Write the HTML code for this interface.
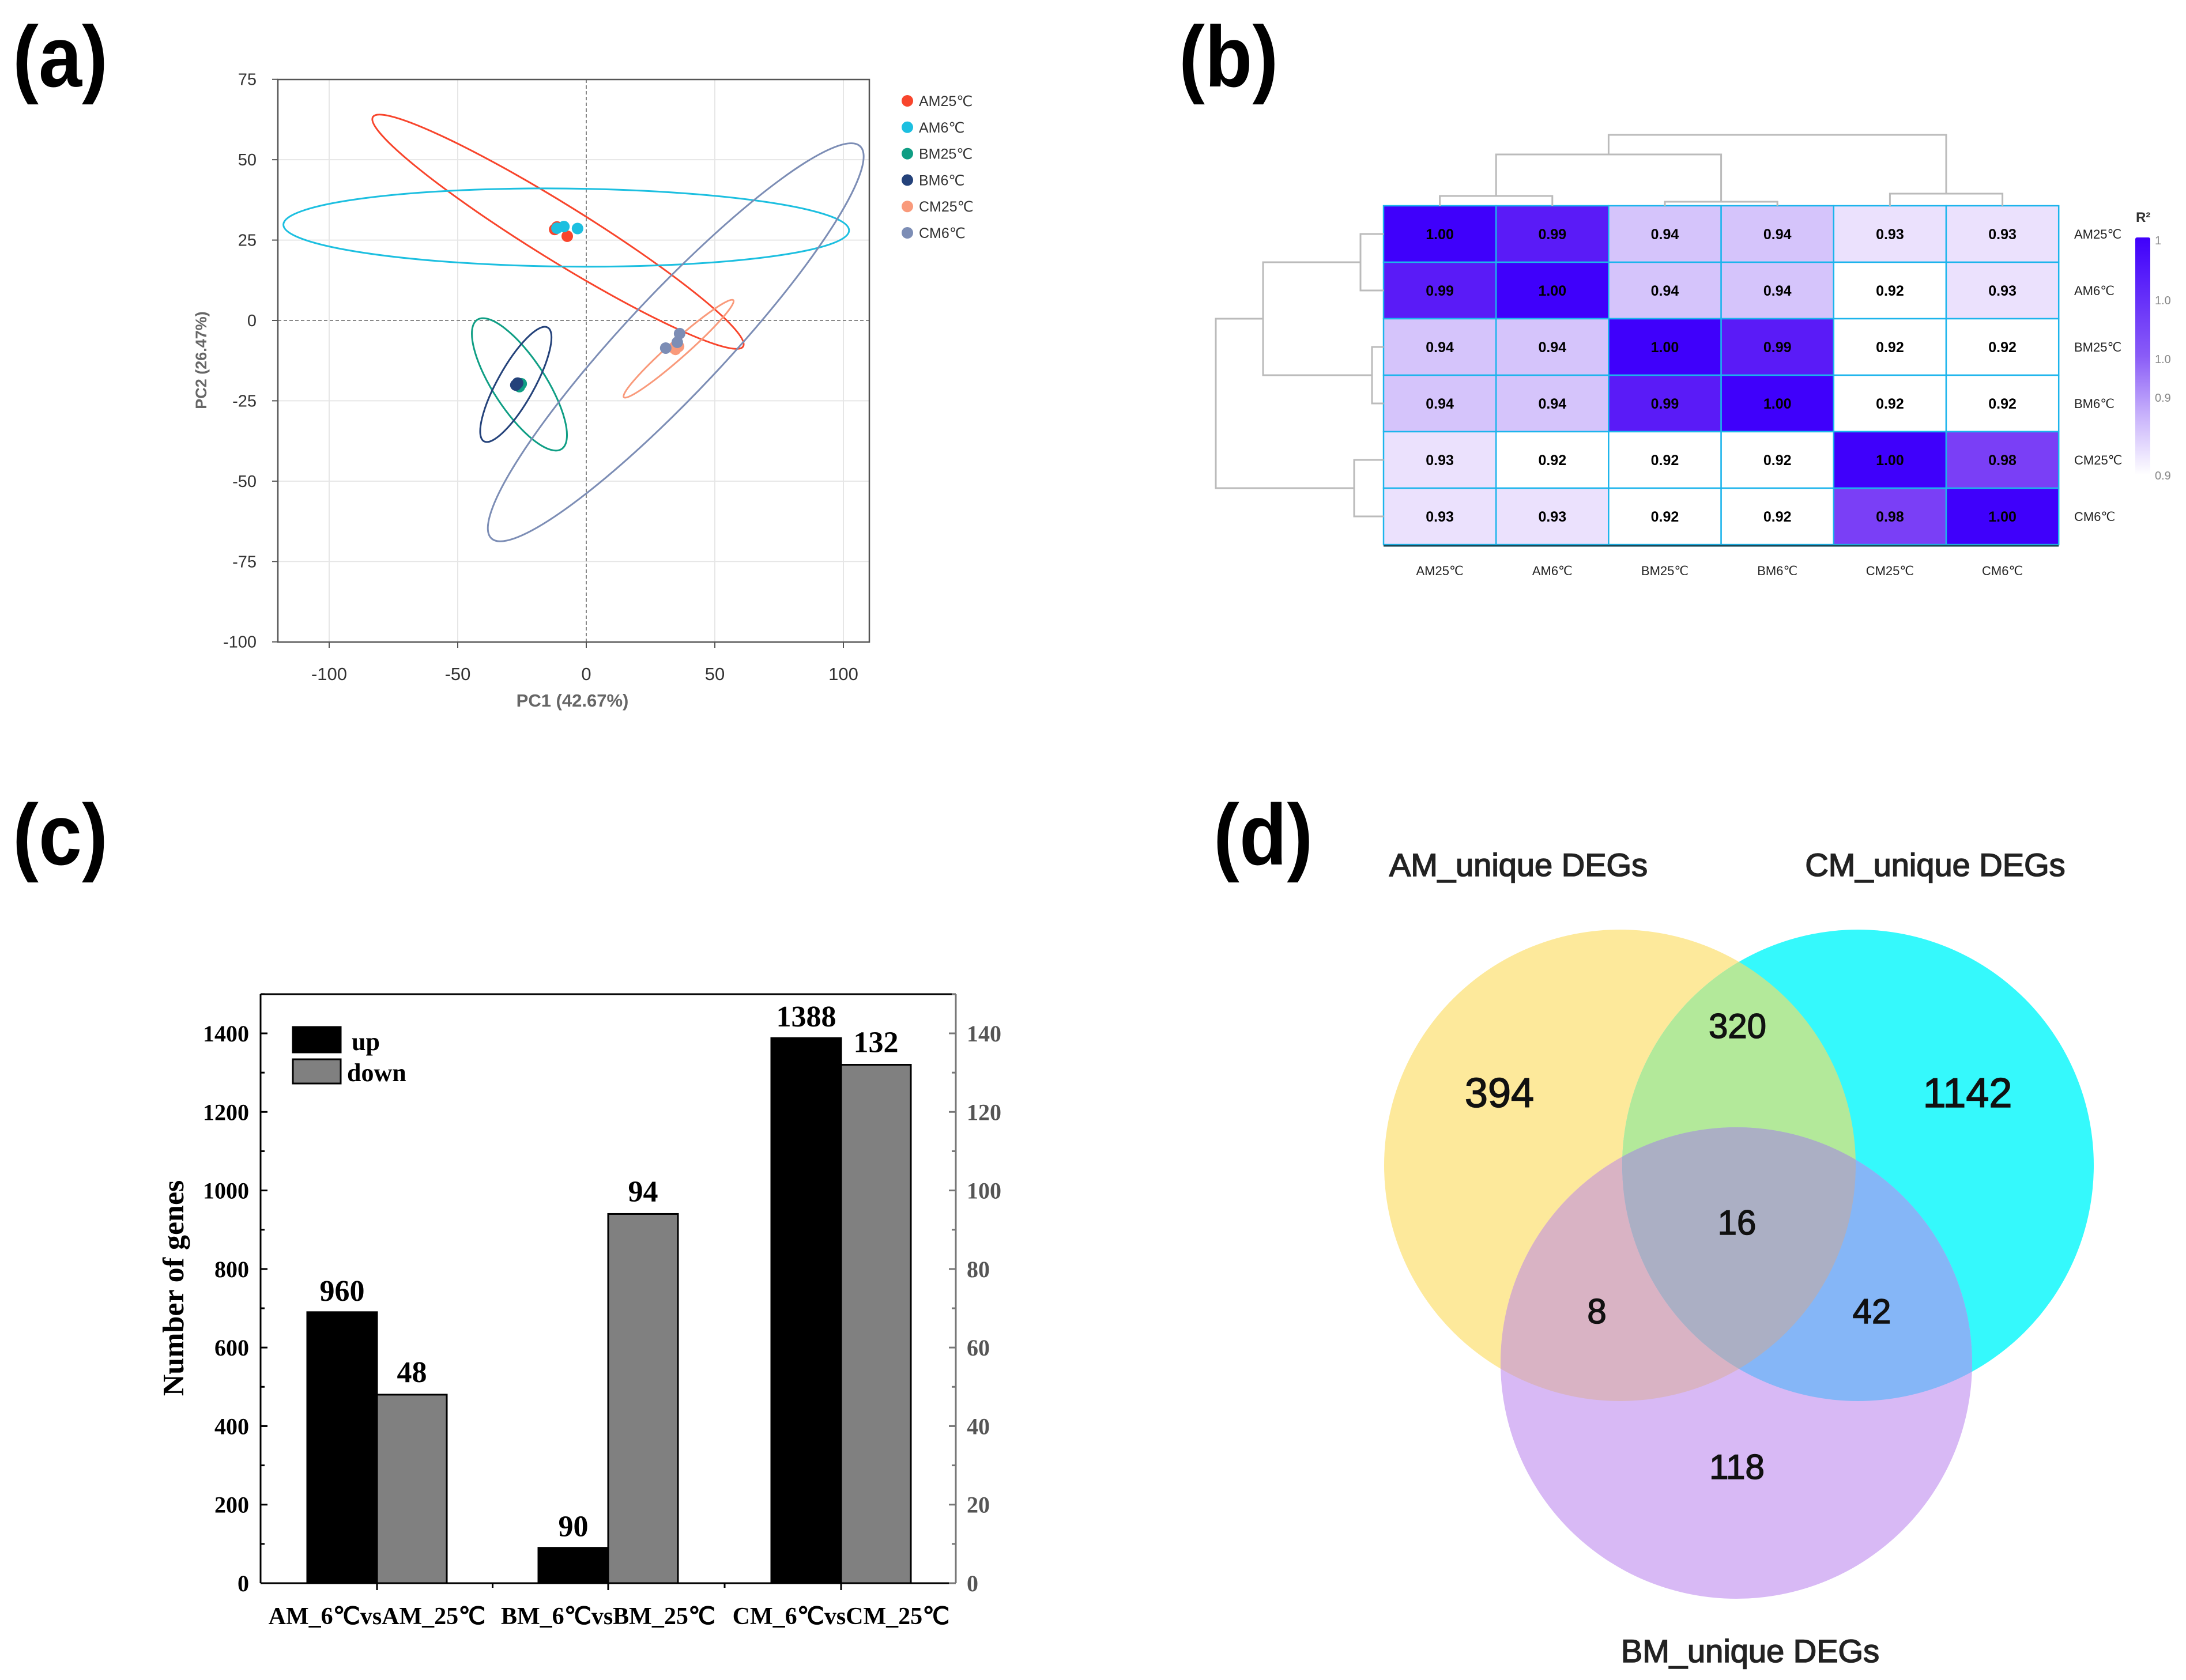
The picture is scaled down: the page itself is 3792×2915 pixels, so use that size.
<!DOCTYPE html>
<html><head><meta charset="utf-8">
<style>
html,body{margin:0;padding:0;background:#fff;}
svg{display:block;}
.nar{font-family:"Liberation Sans Narrow","Liberation Sans",sans-serif;}
.sans{font-family:"Liberation Sans",sans-serif;}
.tim{font-family:"Liberation Serif",serif;font-weight:bold;}
.plab{font-family:"Liberation Sans",sans-serif;font-weight:bold;}
</style></head>
<body>
<svg id="fig" width="3792" height="2915" viewBox="0 0 3792 2915" xmlns="http://www.w3.org/2000/svg">
  <defs>
    <linearGradient id="cbar" x1="0" y1="0" x2="0" y2="1">
      <stop offset="0" stop-color="#3f00fb"/>
      <stop offset="0.5" stop-color="#8a5cf7"/>
      <stop offset="0.75" stop-color="#c8b2fb"/>
      <stop offset="1" stop-color="#ffffff"/>
    </linearGradient>
  </defs>
  <text x="22" y="150" class="plab" font-size="150" fill="#000" transform="translate(22 0) scale(0.9 1) translate(-22 0)">(a)</text>
  <text x="2045" y="150" class="plab" font-size="150" fill="#000" transform="translate(2045 0) scale(0.9 1) translate(-2045 0)">(b)</text>
  <text x="22" y="1500" class="plab" font-size="150" fill="#000" transform="translate(22 0) scale(0.9 1) translate(-22 0)">(c)</text>
  <text x="2105" y="1500" class="plab" font-size="150" fill="#000" transform="translate(2105 0) scale(0.9 1) translate(-2105 0)">(d)</text>
  <g id="pa"></g>
  <g id="pb"></g>
  <g id="pc"></g>
  <g id="pd"></g>
</svg>
<script>
// ---------- Panel (a) data ----------
const pcaGroups = ['AM25℃','AM6℃','BM25℃','BM6℃','CM25℃','CM6℃'];
const pcaColors = ['#f8452c','#1cbfe0','#0f9e84','#24427a','#f99a7b','#7c8db5'];
const pcaX = [[-12.3,-7.4,-11.4],[-11.4,-8.7,-3.4],[-25.3,-26.0],[-27.4,-26.7],[34.7,35.9,34.1],[30.9,36.3,35.4]];
const pcaY = [[28.3,26.2,29.1],[28.7,29.2,28.6],[-19.7,-20.6],[-20.1,-19.5],[-9.0,-8.1,-8.6],[-8.6,-4.1,-6.8]];
const ellCenterX = [-11.0,-7.8,-26.0,-27.4,35.9,34.8];
const ellCenterY = [27.6,28.9,-19.9,-19.9,-8.8,-6.8];
const ellTipX = [61.0,102.2,-9.6,-15.0,57.2,106.5];
const ellTipY = [-8.1,28.0,-40.0,-2.2,6.3,54.2];
const ellRatio = [0.127,0.138,0.34,0.28,0.12,0.185];
const pcaXTicks = [-100,-50,0,50,100];
const pcaYTicks = [75,50,25,0,-25,-50,-75,-100];

// ---------- Panel (b) data ----------
const hmLabels = ['AM25℃','AM6℃','BM25℃','BM6℃','CM25℃','CM6℃'];
const hmRow0 = [1.00,0.99,0.94,0.94,0.93,0.93];
const hmRow1 = [0.99,1.00,0.94,0.94,0.92,0.93];
const hmRow2 = [0.94,0.94,1.00,0.99,0.92,0.92];
const hmRow3 = [0.94,0.94,0.99,1.00,0.92,0.92];
const hmRow4 = [0.93,0.92,0.92,0.92,1.00,0.98];
const hmRow5 = [0.93,0.93,0.92,0.92,0.98,1.00];
const cbarTicks = ['1','1.0','1.0','0.9','0.9'];

// ---------- Panel (c) data ----------
const barCats = ['AM_6℃vsAM_25℃','BM_6℃vsBM_25℃','CM_6℃vsCM_25℃'];
const upValues = [690,90,1388];
const upLabels = ['960','90','1388'];
const downValues = [48,94,132];
const leftTicks = [0,200,400,600,800,1000,1200,1400];
const rightTicks = [0,20,40,60,80,100,120,140];

// ---------- Panel (d) data ----------
const vennSets = ['AM_unique DEGs','CM_unique DEGs','BM_unique DEGs'];
const vennCounts = ['394','1142','118','320','8','42','16'];

const NS='http://www.w3.org/2000/svg';
function mk(parent,tag,attrs,text){const e=document.createElementNS(NS,tag);for(const k in attrs)e.setAttribute(k,attrs[k]);if(text!==undefined)e.textContent=text;parent.appendChild(e);return e;}

// ===== Panel A =====
(function(){
  const g=document.getElementById('pa');
  const L=482,R=1508,T=138,B=1114;
  const sx=v=>1017+v*4.46, sy=v=>556-v*5.577;
  const grid=mk(g,'g',{});
  
  
  pcaXTicks.forEach(t=>{ if(t!==0) mk(grid,'line',{x1:sx(t),x2:sx(t),y1:T,y2:B,stroke:'#e6e6e6','stroke-width':2}); });
  pcaYTicks.forEach(t=>{ if(t!==0 && t!==75 && t!==-100) mk(grid,'line',{x1:L,x2:R,y1:sy(t),y2:sy(t),stroke:'#e6e6e6','stroke-width':2}); });
  mk(grid,'line',{x1:sx(0),x2:sx(0),y1:T,y2:B,stroke:'#888','stroke-width':2,'stroke-dasharray':'6,4'});
  mk(grid,'line',{x1:L,x2:R,y1:sy(0),y2:sy(0),stroke:'#888','stroke-width':2,'stroke-dasharray':'6,4'});
  const fr=mk(g,'rect',{x:L,y:T,width:R-L,height:B-T,fill:'none',stroke:'#555','stroke-width':2.5});
  
  
  pcaXTicks.forEach(t=>{
    mk(g,'line',{x1:sx(t),x2:sx(t),y1:B,y2:B+10,stroke:'#555','stroke-width':2});
    const tx=mk(g,'text',{x:sx(t),y:B+66,'text-anchor':'middle','font-size':31,fill:'#333',class:'nar'},String(t));
    
    
  });
  pcaYTicks.forEach(t=>{
    mk(g,'line',{x1:L-10,x2:L,y1:sy(t),y2:sy(t),stroke:'#555','stroke-width':2});
    const tx=mk(g,'text',{x:L-37,y:sy(t)+10,'text-anchor':'end','font-size':29,fill:'#333',class:'nar'},String(t));
    
    
  });
  const xt=mk(g,'text',{x:993,y:1226,'text-anchor':'middle','font-size':31,fill:'#666',class:'nar','font-weight':'bold'},'PC1 (42.67%)');
  
  
  const yt=mk(g,'text',{x:0,y:0,'text-anchor':'middle','font-size':27,fill:'#666',class:'sans','font-weight':'bold',transform:'translate(358,625) rotate(-90)'},'PC2 (26.47%)');
  
  
  pcaGroups.forEach((name,i)=>{
    const cx=sx(ellCenterX[i]), cy=sy(ellCenterY[i]);
    const tx=sx(ellTipX[i]), ty=sy(ellTipY[i]);
    const a=Math.hypot(tx-cx,ty-cy), ang=Math.atan2(ty-cy,tx-cx)*180/Math.PI;
    const e=mk(g,'ellipse',{cx:cx,cy:cy,rx:a,ry:a*ellRatio[i],fill:'none',stroke:pcaColors[i],'stroke-width':3,transform:`rotate(${ang} ${cx} ${cy})`});
    
    
  });
  pcaGroups.forEach((name,i)=>{
    pcaX[i].forEach((v,j)=>{
      const c=mk(g,'circle',{cx:sx(v),cy:sy(pcaY[i][j]),r:10,fill:pcaColors[i]});
      
      
    });
  });
  pcaGroups.forEach((name,i)=>{
    const y=175+i*45.8;
    const lg=mk(g,'g',{});
    
    
    mk(lg,'circle',{cx:1574,cy:y,r:10,fill:pcaColors[i]});
    mk(lg,'text',{x:1594,y:y+9,'font-size':25,fill:'#333',class:'nar'},name);
  });
})();

// ===== Panel B =====
(function(){
  const g=document.getElementById('pb');
  const rows=[hmRow0,hmRow1,hmRow2,hmRow3,hmRow4,hmRow5];
  const L=2400,T=357,cw=195.2,ch=98;
  const stopsV=[0.92,0.93,0.94,0.98,0.99,1.00];
  const stopsC=[[255,255,255],[235,225,253],[213,196,251],[122,63,246],[90,27,247],[63,0,251]];
  function col(v){
    if(v<=stopsV[0]) return 'rgb(255,255,255)';
    for(let k=1;k<stopsV.length;k++){ if(v<=stopsV[k]+1e-9){const t=(v-stopsV[k-1])/(stopsV[k]-stopsV[k-1]);const c=stopsC[k-1].map((c0,m)=>Math.round(c0+(stopsC[k][m]-c0)*t));return `rgb(${c})`;} }
    return 'rgb(63,0,251)';
  }
  const cx=i=>L+cw*(i+0.5), cy=j=>T+ch*(j+0.5);
  rows.forEach((row,j)=>row.forEach((v,i)=>{
    const r=mk(g,'rect',{x:L+cw*i,y:T+ch*j,width:cw,height:ch,fill:col(v),stroke:'#1cb4ec','stroke-width':2.5});
    
    
    const t=mk(g,'text',{x:cx(i),y:cy(j)+9,'text-anchor':'middle','font-size':25,'font-weight':'bold',fill:'#000',class:'nar'},v.toFixed(2));
    
    
  }));
  mk(g,'line',{x1:L,x2:L+cw*6,y1:T+ch*6+2,y2:T+ch*6+2,stroke:'#1a4a5a','stroke-width':3});
  hmLabels.forEach((n,j)=>{
    const t=mk(g,'text',{x:3598,y:cy(j)+8,'font-size':22,fill:'#222',class:'nar'},n);
    
    
    const t2=mk(g,'text',{x:cx(j),y:998,'text-anchor':'middle','font-size':22,fill:'#222',class:'nar'},n);
    
    
  });
  const dg=mk(g,'g',{fill:'none',stroke:'#bbb','stroke-width':3});
  
  
  function tU(x1,x2,y,yb1,yb2){mk(dg,'path',{d:`M${x1} ${yb1}V${y}H${x2}V${yb2}`});}
  const m01=(cx(0)+cx(1))/2,m23=(cx(2)+cx(3))/2,m45=(cx(4)+cx(5))/2,mAB=(m01+m23)/2;
  tU(cx(0),cx(1),340,T,T); tU(cx(2),cx(3),350,T,T); tU(cx(4),cx(5),336,T,T);
  tU(m01,m23,268,340,350); tU(mAB,m45,234,268,336);
  function tL(y1,y2,x,xb1,xb2){mk(dg,'path',{d:`M${xb1} ${y1}H${x}V${y2}H${xb2}`});}
  const r01=(cy(0)+cy(1))/2,r23=(cy(2)+cy(3))/2,r45=(cy(4)+cy(5))/2,rAB=(r01+r23)/2;
  tL(cy(0),cy(1),2360,L,L); tL(cy(2),cy(3),2380,L,L); tL(cy(4),cy(5),2349,L,L);
  tL(r01,r23,2191,2360,2380); tL(rAB,r45,2109,2191,2349);
  const cb=mk(g,'rect',{x:3704,y:412,width:26,height:412,fill:'url(#cbar)',rx:3});
  
  
  mk(g,'text',{x:3705,y:385,'font-size':24,'font-weight':'bold',fill:'#333',class:'sans'},'R²');
  const ty=[424,528,630,697,832];
  cbarTicks.forEach((t,k)=>{
    const tx=mk(g,'text',{x:3738,y:ty[k],'font-size':20,fill:'#888',class:'nar'},t);
    
    
  });
})();

// ===== Panel C =====
(function(){
  const g=document.getElementById('pc');
  const L=452,R=1658,T=1725,B=2747;
  const yl=v=>B-v*(B-1793)/1400, yr=v=>B-v*(B-1793)/140;
  const catC=[654,1055,1459], bw=121;
  upValues.forEach((v,i)=>{
    const r=mk(g,'rect',{x:catC[i]-bw,y:yl(v),width:bw,height:B-yl(v),fill:'#000',stroke:'#000','stroke-width':3});
    
    
    const t=mk(g,'text',{x:catC[i]-bw/2,y:yl(v)-20,'text-anchor':'middle','font-size':52,class:'tim'},upLabels[i]);
    
    
  });
  downValues.forEach((v,i)=>{
    const r=mk(g,'rect',{x:catC[i],y:yr(v),width:bw,height:B-yr(v),fill:'#808080',stroke:'#000','stroke-width':3});
    
    
    const t=mk(g,'text',{x:catC[i]+bw/2,y:yr(v)-22,'text-anchor':'middle','font-size':52,class:'tim'},String(v));
    
    
  });
  mk(g,'line',{x1:L,x2:L,y1:T,y2:B,stroke:'#000','stroke-width':3});
  mk(g,'line',{x1:L,x2:R,y1:T,y2:T,stroke:'#000','stroke-width':3});
  mk(g,'line',{x1:L,x2:R,y1:B,y2:B,stroke:'#000','stroke-width':3});
  mk(g,'line',{x1:R,x2:R,y1:T,y2:B,stroke:'#777','stroke-width':3});
  for(let v=0;v<=1500;v+=100){const len=v%200===0?12:7;mk(g,'line',{x1:L,x2:L+len,y1:yl(v),y2:yl(v),stroke:'#000','stroke-width':3});mk(g,'line',{x1:R-len,x2:R,y1:yl(v),y2:yl(v),stroke:'#777','stroke-width':3});}
  leftTicks.forEach(t=>{
    const tx=mk(g,'text',{x:432,y:yl(t)+14,'text-anchor':'end','font-size':40,class:'tim'},String(t));
    
    
  });
  rightTicks.forEach(t=>{
    const tx=mk(g,'text',{x:1677,y:yr(t)+14,'font-size':40,class:'tim',fill:'#555'},String(t));
    
    
  });
  [catC[0],(catC[0]+catC[1])/2,catC[1],(catC[1]+catC[2])/2,catC[2]].forEach((x,k)=>{
    mk(g,'line',{x1:x,x2:x,y1:B,y2:B+(k%2===0?12:8),stroke:'#000','stroke-width':3});
  });
  barCats.forEach((c,i)=>{
    const t=mk(g,'text',{x:catC[i],y:2818,'text-anchor':'middle','font-size':42,class:'tim'},c);
    
    
  });
  const yt=mk(g,'text',{x:0,y:0,'text-anchor':'middle','font-size':52,class:'tim',transform:'translate(318,2235) rotate(-90)'},'Number of genes');
  
  
  const l1=mk(g,'g',{});
  
  
  mk(l1,'rect',{x:508,y:1782,width:83,height:44,fill:'#000',stroke:'#000','stroke-width':3});
  mk(l1,'text',{x:610,y:1822,'font-size':44,class:'tim'},'up');
  const l2=mk(g,'g',{});
  
  
  mk(l2,'rect',{x:508,y:1838,width:83,height:42,fill:'#808080',stroke:'#000','stroke-width':3});
  mk(l2,'text',{x:602,y:1876,'font-size':44,class:'tim'},'down');
})();

// ===== Panel D =====
(function(){
  const g=document.getElementById('pd');
  const r=409, A=[2810,2022], C=[3223,2022], Bm=[3012,2365];
  const defs=mk(g,'defs',{});
  const ca=mk(defs,'clipPath',{id:'clipA'}); mk(ca,'circle',{cx:A[0],cy:A[1],r:r});
  const cc=mk(defs,'clipPath',{id:'clipC'}); mk(cc,'circle',{cx:C[0],cy:C[1],r:r});
  const circ=(p,fill,name)=>{const e=mk(g,'circle',{cx:p[0],cy:p[1],r:r,fill:fill});return e;};
  circ(A,'#fde99b','venn-circle-am');
  circ(C,'#35f9fc','venn-circle-cm');
  circ(Bm,'#d8b9f5','venn-circle-bm');
  const gAC=mk(g,'g',{'clip-path':'url(#clipA)'}); mk(gAC,'circle',{cx:C[0],cy:C[1],r:r,fill:'#b3e99a'});
  const gAB=mk(g,'g',{'clip-path':'url(#clipA)'}); mk(gAB,'circle',{cx:Bm[0],cy:Bm[1],r:r,fill:'#d9b3c4'});
  const gCB=mk(g,'g',{'clip-path':'url(#clipC)'}); mk(gCB,'circle',{cx:Bm[0],cy:Bm[1],r:r,fill:'#85b6f7'});
  const gABC=mk(g,'g',{'clip-path':'url(#clipA)'}); const g2=mk(gABC,'g',{'clip-path':'url(#clipC)'}); mk(g2,'circle',{cx:Bm[0],cy:Bm[1],r:r,fill:'#abafc4'});
  const titlePos=[[2634,1520],[3357,1520],[3036,2884]];
  vennSets.forEach((s,i)=>{
    const t=mk(g,'text',{x:titlePos[i][0],y:titlePos[i][1],'text-anchor':'middle','font-size':56,fill:'#222',stroke:'#222','stroke-width':1.6,class:'sans'},s);
    
    
  });
  const numPos=[[2601,1921],[3413,1921],[3013,2566],[3014,1801],[2770,2296],[3247,2296],[3013,2142]];
  const numSize=[72,72,60,60,60,60,60];
  vennCounts.forEach((n,i)=>{
    const t=mk(g,'text',{x:numPos[i][0],y:numPos[i][1],'text-anchor':'middle','font-size':numSize[i],fill:'#111',stroke:'#111','stroke-width':1.5,class:'sans'},n);
    
    
  });
})();
</script>
</body></html>
